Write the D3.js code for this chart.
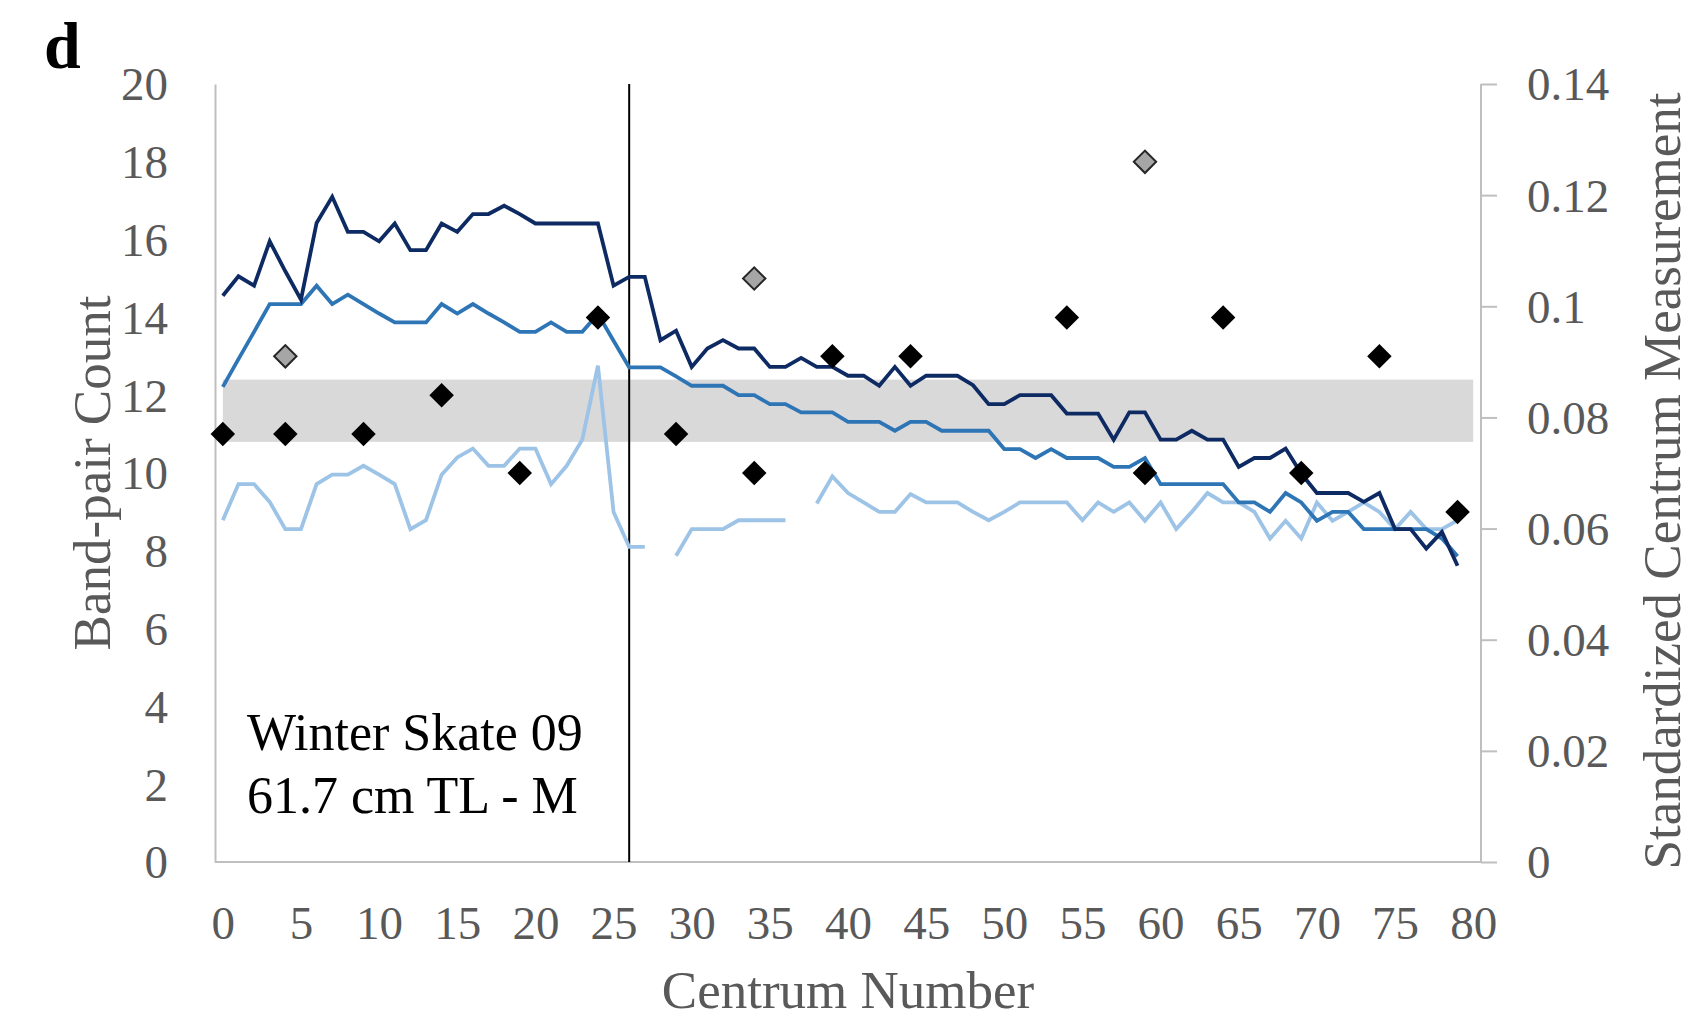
<!DOCTYPE html>
<html>
<head>
<meta charset="utf-8">
<script src="https://cdn.jsdelivr.net/npm/d3@7"></script>
<style>
  html, body { margin: 0; padding: 0; background: #fff; }
  svg { display: block; font-family: "Liberation Serif", "Times New Roman", serif; }
</style>
</head>
<body>
<svg id="chart" width="1706" height="1021"></svg>
<script>
// Centrum numbers along the vertebral column
const centra = d3.range(0, 80);

// Standardized centrum measurements (right axis), one value per centrum
const seriesDark = [
  0.1019, 0.1054, 0.1037, 0.1117, 0.1063, 0.1012, 0.1150, 0.1197, 0.1134, 0.1134,
  0.1117, 0.1149, 0.1101, 0.1101, 0.1149, 0.1134, 0.1166, 0.1166, 0.1181, 0.1166,
  0.1149, 0.1149, 0.1149, 0.1149, 0.1149, 0.1037, 0.1053, 0.1053, 0.0939, 0.0956,
  0.0891, 0.0924, 0.0939, 0.0924, 0.0924, 0.0891, 0.0891, 0.0907, 0.0891, 0.0891,
  0.0875, 0.0875, 0.0857, 0.0891, 0.0857, 0.0875, 0.0875, 0.0875, 0.0858, 0.0824,
  0.0824, 0.0840, 0.0840, 0.0840, 0.0807, 0.0807, 0.0807, 0.0760, 0.0809, 0.0809,
  0.0760, 0.0760, 0.0776, 0.0760, 0.0760, 0.0711, 0.0727, 0.0727, 0.0744, 0.0699,
  0.0664, 0.0664, 0.0664, 0.0648, 0.0664, 0.0599, 0.0599, 0.0564, 0.0594, 0.0533
];
const seriesMid = [
  0.0855, 0.0905, 0.0954, 0.1004, 0.1004, 0.1004, 0.1037, 0.1004, 0.1021, 0.1004,
  0.0987, 0.0971, 0.0971, 0.0971, 0.1004, 0.0987, 0.1004, 0.0987, 0.0971, 0.0954,
  0.0954, 0.0971, 0.0954, 0.0954, 0.0986, 0.0938, 0.0890, 0.0890, 0.0890, 0.0874,
  0.0857, 0.0857, 0.0857, 0.0840, 0.0840, 0.0824, 0.0824, 0.0809, 0.0809, 0.0809,
  0.0792, 0.0792, 0.0792, 0.0776, 0.0792, 0.0792, 0.0776, 0.0776, 0.0776, 0.0776,
  0.0743, 0.0743, 0.0727, 0.0743, 0.0727, 0.0727, 0.0727, 0.0711, 0.0711, 0.0727,
  0.0680, 0.0680, 0.0680, 0.0680, 0.0680, 0.0647, 0.0647, 0.0630, 0.0664, 0.0647,
  0.0614, 0.0630, 0.0630, 0.0599, 0.0599, 0.0599, 0.0599, 0.0599, 0.0582, 0.0550
];
const seriesLight = [
  0.0615, 0.0680, 0.0680, 0.0648, 0.0599, 0.0599, 0.0680, 0.0697, 0.0697, 0.0713,
  0.0697, 0.0680, 0.0599, 0.0615, 0.0697, 0.0728, 0.0744, 0.0713, 0.0713, 0.0744,
  0.0744, 0.0680, 0.0713, 0.0760, 0.0893, 0.0630, 0.0567, 0.0567, null,   0.0551,
  0.0599, 0.0599, 0.0599, 0.0615, 0.0615, 0.0615, 0.0615, null,   0.0645, 0.0694,
  0.0664, 0.0647, 0.0630, 0.0630, 0.0662, 0.0647, 0.0647, 0.0647, 0.0630, 0.0615,
  0.0630, 0.0647, 0.0647, 0.0647, 0.0647, 0.0615, 0.0647, 0.0630, 0.0647, 0.0614,
  0.0647, 0.0599, 0.0630, 0.0664, 0.0647, 0.0647, 0.0630, 0.0582, 0.0614, 0.0582,
  0.0647, 0.0614, 0.0630, 0.0647, 0.0630, 0.0599, 0.0630, 0.0599, 0.0599, 0.0615
];

// Band-pair counts (left axis)
const countCentra = [0, 4, 9, 14, 19, 24, 29, 34, 39, 44, 54, 59, 64, 69, 74, 79];
const countValues = [11, 11, 11, 12, 10, 14, 11, 10, 13, 13, 14, 10, 14, 10, 13, 9];
const outlierCentra = [4, 34, 59];
const outlierValues = [13, 15, 18];

// Shaded reference range of band-pair counts
const bandRange = [10.8, 12.4];
const bandSpan = [0, 80];
// Divider centrum
const dividerAt = 26;

const xTicks = d3.range(0, 81, 5);
const leftTicks = d3.range(0, 21, 2);
const rightTicks = [0, 0.02, 0.04, 0.06, 0.08, 0.1, 0.12, 0.14];

const svg = d3.select("#chart");
const plot = { left: 215, right: 1481, top: 84, bottom: 862 };

const x = d3.scaleLinear().domain([-0.5, 80.5]).range([plot.left, plot.right]);
const yL = d3.scaleLinear().domain([0, 20]).range([plot.bottom, plot.top]);
const yR = d3.scaleLinear().domain([0, 0.14]).range([plot.bottom, plot.top]);

const grey = "#595959";
const axisGrey = "#bfbfbf";
const tickFont = 47;
const titleFont = 53;

// Shaded band
svg.append("rect")
  .attr("x", x(bandSpan[0]))
  .attr("y", yL(bandRange[1]))
  .attr("width", x(bandSpan[1]) - x(bandSpan[0]))
  .attr("height", yL(bandRange[0]) - yL(bandRange[1]))
  .attr("fill", "#d9d9d9");

// Left axis (no tick marks)
const leftAxis = svg.append("g")
  .attr("transform", `translate(${plot.left},0)`)
  .call(d3.axisLeft(yL).tickValues(leftTicks).tickSize(0).tickPadding(47).tickFormat(d3.format("d")));
leftAxis.select(".domain").attr("stroke", axisGrey).attr("stroke-width", 2);
leftAxis.selectAll("text").attr("fill", grey).attr("font-size", tickFont)
  .attr("font-family", "Liberation Serif").attr("dy", "0.34em");

// Right axis with outward tick marks
const rightAxis = svg.append("g")
  .attr("transform", `translate(${plot.right},0)`)
  .call(d3.axisRight(yR).tickValues(rightTicks).tickSize(16).tickPadding(30)
    .tickFormat(d => d === 0 ? "0" : d3.format("~g")(d)));
rightAxis.select(".domain").attr("stroke", axisGrey).attr("stroke-width", 2).attr("d", `M0,${plot.top}V${plot.bottom}`);
rightAxis.selectAll(".tick line").attr("stroke", axisGrey).attr("stroke-width", 2);
rightAxis.selectAll("text").attr("fill", grey).attr("font-size", tickFont)
  .attr("font-family", "Liberation Serif").attr("dy", "0.34em");

// Bottom axis (labels only)
const bottomAxis = svg.append("g")
  .attr("transform", `translate(0,${plot.bottom})`)
  .call(d3.axisBottom(x).tickValues(xTicks).tickSize(0).tickPadding(44));
bottomAxis.select(".domain").attr("stroke", axisGrey).attr("stroke-width", 2)
  .attr("d", `M${plot.left},0H${plot.right}`);
bottomAxis.selectAll("text").attr("fill", grey).attr("font-size", tickFont)
  .attr("font-family", "Liberation Serif");

// Divider line
svg.append("line")
  .attr("x1", x(dividerAt)).attr("x2", x(dividerAt))
  .attr("y1", yL(20)).attr("y2", yL(0))
  .attr("stroke", "#000").attr("stroke-width", 2);

// Measurement lines
const line = d3.line()
  .defined(d => d.v !== null)
  .x(d => x(d.c))
  .y(d => yR(d.v));

const lineSeries = [
  { values: seriesLight, color: "#9dc3e6" },
  { values: seriesMid, color: "#2e75b6" },
  { values: seriesDark, color: "#0e2a63" }
];
lineSeries.forEach(s => {
  svg.append("path")
    .datum(centra.map((c, i) => ({ c, v: s.values[i] })))
    .attr("fill", "none")
    .attr("stroke", s.color)
    .attr("stroke-width", 3.8)
    .attr("stroke-linejoin", "miter")
    .attr("d", line);
});

// Band-pair count markers (diamonds)
const diamond = d3.symbol().type(d3.symbolSquare).size(300);
svg.append("g").selectAll("path")
  .data(countCentra.map((c, i) => ({ c, v: countValues[i] })))
  .join("path")
  .attr("d", diamond)
  .attr("transform", d => `translate(${x(d.c)},${yL(d.v)}) rotate(45)`)
  .attr("fill", "#000");

svg.append("g").selectAll("path")
  .data(outlierCentra.map((c, i) => ({ c, v: outlierValues[i] })))
  .join("path")
  .attr("d", d3.symbol().type(d3.symbolSquare).size(250))
  .attr("transform", d => `translate(${x(d.c)},${yL(d.v)}) rotate(45)`)
  .attr("fill", "#a6a6a6")
  .attr("stroke", "#262626")
  .attr("stroke-width", 2);

// Axis titles
svg.append("text")
  .attr("transform", `translate(${(plot.left + plot.right) / 2},1008)`)
  .attr("text-anchor", "middle")
  .attr("font-size", titleFont).attr("fill", grey)
  .text("Centrum Number");

svg.append("text")
  .attr("transform", `translate(110,${(plot.top + plot.bottom) / 2}) rotate(-90)`)
  .attr("text-anchor", "middle")
  .attr("font-size", titleFont).attr("fill", grey)
  .text("Band-pair Count");

svg.append("text")
  .attr("transform", `translate(1680,${(plot.top + plot.bottom) / 2 + 8}) rotate(-90)`)
  .attr("text-anchor", "middle")
  .attr("font-size", titleFont).attr("fill", grey)
  .text("Standardized Centrum Measurement");

// Specimen annotation
const note = svg.append("text")
  .attr("font-size", 52).attr("fill", "#000");
note.append("tspan").attr("x", 247).attr("y", 750).text("Winter Skate 09");
note.append("tspan").attr("x", 247).attr("y", 813).text("61.7 cm TL - M");

// Panel letter
svg.append("text")
  .attr("x", 44).attr("y", 68)
  .attr("font-size", 66).attr("font-weight", "bold").attr("fill", "#000")
  .text("d");
</script>
</body>
</html>
